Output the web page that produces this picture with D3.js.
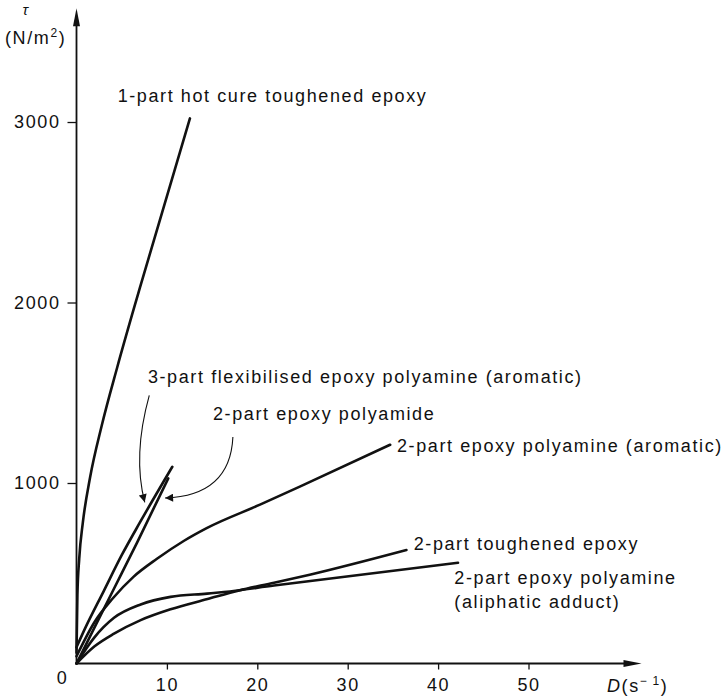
<!DOCTYPE html>
<html>
<head>
<meta charset="utf-8">
<script src="https://cdn.jsdelivr.net/npm/d3@7"></script>
<style>
  body { margin: 0; background: #fff; }
  svg text { font-family: "Liberation Sans", Arial, sans-serif; font-size: 18px; letter-spacing: 1.6px; fill: #111; }
</style>
</head>
<body>
<svg width="726" height="698"></svg>
<script>
// shear rate D (1/s) vs shear stress tau (N/m^2)
var hotCure     = [[0, 60], [0.1, 380], [0.3, 580], [0.7, 780], [1.5, 1030], [2.8, 1320], [4.5, 1640], [7, 2080], [12.55, 3020]];
var flexibilised = [[0, 90], [1, 200], [3, 400], [5, 600], [7, 780], [10.6, 1090]];
var polyamide   = [[0, 0], [1.9, 190], [4.1, 410], [6.7, 670], [10.15, 1026]];
var aromatic    = [[0, 40], [2, 230], [4, 360], [6.3, 480], [8.9, 580], [11.9, 680], [14.4, 750], [20.3, 880], [24.7, 980], [34.7, 1212]];
var aliphatic   = [[0, 0], [1.94, 142], [4.15, 253], [7.1, 327], [10.4, 369], [14.45, 387], [16.3, 396], [21.85, 432], [42.2, 558]];
var toughened   = [[0, 0], [2, 95], [4.15, 165], [7.1, 240], [10.4, 300], [14.5, 357], [18, 405], [21.85, 447], [25.8, 492], [36.5, 629]];

var xTicks = [10, 20, 30, 40, 50];
var yTicks = [1000, 2000, 3000];

var labels = [
  { text: ["1-part hot cure toughened epoxy"], at: [4.55, 3110] },
  { text: ["3-part flexibilised epoxy polyamine (aromatic)"], at: [7.9, 1554] },
  { text: ["2-part epoxy polyamide"], at: [15.1, 1349] },
  { text: ["2-part epoxy polyamine (aromatic)"], at: [35.45, 1172] },
  { text: ["2-part toughened epoxy"], at: [37.3, 629] },
  { text: ["2-part epoxy polyamine", "(aliphatic adduct)"], at: [41.8, 440] }
];

var svg = d3.select("svg");

var x = d3.scaleLinear().domain([0, 62.5]).range([76.5, 641.5]);
var y = d3.scaleLinear().domain([0, 3630]).range([663.5, 8.3]);

// axes (no domain path, drawn separately with arrow heads)
svg.append("g")
    .attr("transform", "translate(0," + y(0) + ")")
    .call(d3.axisBottom(x).tickValues(xTicks).tickSize(6).tickPadding(9).tickFormat(d3.format("d")));
svg.append("g")
    .attr("transform", "translate(" + x(0) + ",0)")
    .call(d3.axisLeft(y).tickValues(yTicks).tickSize(9).tickPadding(7).tickFormat(d3.format("d")));
svg.selectAll(".domain").remove();
svg.selectAll(".tick line").attr("stroke", "#111").attr("stroke-width", 1.3);
svg.selectAll(".tick text").style("font-size", "18px").attr("fill", "#111");

svg.append("line")
    .attr("x1", x(0)).attr("x2", x(62.5) - 8)
    .attr("y1", y(0)).attr("y2", y(0))
    .attr("stroke", "#111").attr("stroke-width", 1.8);
svg.append("line")
    .attr("x1", x(0)).attr("x2", x(0))
    .attr("y1", y(0)).attr("y2", y(3630) + 8)
    .attr("stroke", "#111").attr("stroke-width", 1.8);

svg.append("path")
    .attr("d", "M" + x(62.5) + "," + y(0) + "l-18,-3.5l0,7z")
    .attr("fill", "#111");
svg.append("path")
    .attr("d", "M" + x(0) + "," + y(3630) + "l-3.5,18l7,0z")
    .attr("fill", "#111");

// origin label
svg.append("text")
    .attr("x", x(0) - 14).attr("y", y(0) + 20)
    .attr("text-anchor", "middle")
    .text("0");

// axis titles
var xt = svg.append("text").attr("x", 607).attr("y", 692);
xt.append("tspan").style("font-style", "italic").text("D");
xt.append("tspan").text("(s");
xt.append("tspan").attr("dy", -7).style("font-size", "12px").text("\u2212\u20091");
xt.append("tspan").attr("dy", 7).text(")");

svg.append("text")
    .attr("x", 26).attr("y", 15)
    .attr("text-anchor", "middle")
    .style("font-style", "italic").style("font-size", "15px")
    .text("\u03c4");
var yt = svg.append("text").attr("x", 5).attr("y", 44);
yt.append("tspan").text("(N/m");
yt.append("tspan").attr("dy", -7).style("font-size", "12px").text("2");
yt.append("tspan").attr("dy", 7).text(")");

// curves
var line = d3.line()
    .x(d => x(d[0]))
    .y(d => y(d[1]))
    .curve(d3.curveMonotoneX);

svg.selectAll(".curve")
    .data([hotCure, flexibilised, polyamide, aromatic, aliphatic, toughened])
    .enter()
    .append("path")
    .attr("class", "curve")
    .attr("d", line)
    .attr("fill", "none")
    .attr("stroke", "#111")
    .attr("stroke-width", 2.6)
    .attr("stroke-linecap", "round")
    .attr("stroke-linejoin", "round");

// labels
labels.forEach(function(l) {
  var t = svg.append("text").attr("x", x(l.at[0])).attr("y", y(l.at[1]));
  l.text.forEach(function(s, i) {
    t.append("tspan").attr("x", x(l.at[0])).attr("dy", i === 0 ? 0 : 24).text(s);
  });
});

// pointer arrows for the two crowded lines
svg.append("defs").append("marker")
    .attr("id", "head")
    .attr("viewBox", "0 0 10 10")
    .attr("refX", 10).attr("refY", 5)
    .attr("markerWidth", 11).attr("markerHeight", 8)
    .attr("markerUnits", "userSpaceOnUse")
    .attr("orient", "auto")
  .append("path")
    .attr("d", "M0,0L10,5L0,10z")
    .attr("fill", "#111");

var pointers = [
  { from: [8.05, 1485], ctrl: [6.2, 1150], to: [7.55, 893] },
  { from: [17.3, 1255], ctrl: [17.0, 930], to: [9.8, 917] }
];
pointers.forEach(function(p) {
  svg.append("path")
    .attr("d", "M" + x(p.from[0]) + "," + y(p.from[1]) +
               "Q" + x(p.ctrl[0]) + "," + y(p.ctrl[1]) + " " + x(p.to[0]) + "," + y(p.to[1]))
    .attr("fill", "none")
    .attr("stroke", "#111")
    .attr("stroke-width", 1.1)
    .attr("marker-end", "url(#head)");
});
</script>
</body>
</html>
